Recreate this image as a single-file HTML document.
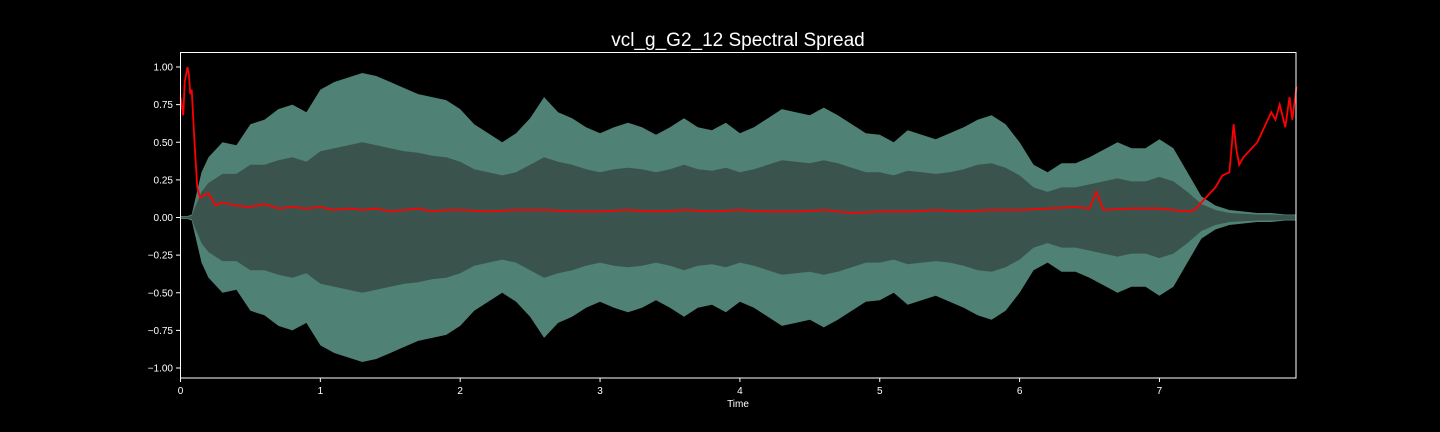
<!DOCTYPE html>
<html><head><meta charset="utf-8"><style>
html,body{margin:0;padding:0;background:#000;overflow:hidden;}
svg{display:block;}
svg text{font-family:"Liberation Sans","DejaVu Sans",sans-serif;fill:#fff;}
</style></head><body>
<svg id="chart" width="1440" height="432" xmlns="http://www.w3.org/2000/svg">
<rect x="0" y="0" width="1440" height="432" fill="#000"/>
<text x="738" y="46" font-size="19" text-anchor="middle">vcl_g_G2_12 Spectral Spread</text>
<g id="plot"></g>
<rect x="180.5" y="52.5" width="1115.5" height="325.5" fill="none" stroke="#fff" stroke-width="1"/>
<g id="axes"></g>
<text x="738" y="407" font-size="10" text-anchor="middle">Time</text>
</svg>
<script>
const envTimes = [0,0.05,0.08,0.1,0.15,0.2,0.3,0.4,0.5,0.6,0.7,0.8,0.9,1.0,1.1,1.2,1.3,1.4,1.5,1.6,1.7,1.8,1.9,2.0,2.1,2.2,2.3,2.4,2.5,2.6,2.7,2.8,2.9,3.0,3.1,3.2,3.3,3.4,3.5,3.6,3.7,3.8,3.9,4.0,4.1,4.2,4.3,4.4,4.5,4.6,4.7,4.8,4.9,5.0,5.1,5.2,5.3,5.4,5.5,5.6,5.7,5.8,5.9,6.0,6.1,6.2,6.3,6.4,6.5,6.6,6.7,6.8,6.9,7.0,7.1,7.2,7.3,7.4,7.5,7.6,7.7,7.8,7.9,7.98];
const outerAmp = [0.01,0.01,0.02,0.1,0.3,0.4,0.5,0.48,0.62,0.65,0.72,0.75,0.7,0.85,0.9,0.93,0.96,0.94,0.9,0.86,0.82,0.8,0.78,0.72,0.62,0.56,0.5,0.56,0.66,0.8,0.7,0.66,0.6,0.56,0.6,0.63,0.6,0.55,0.6,0.66,0.6,0.58,0.63,0.56,0.6,0.66,0.72,0.7,0.68,0.73,0.68,0.62,0.56,0.55,0.5,0.58,0.55,0.52,0.56,0.6,0.65,0.68,0.62,0.5,0.35,0.3,0.36,0.36,0.4,0.45,0.5,0.46,0.46,0.52,0.46,0.3,0.14,0.08,0.05,0.04,0.03,0.03,0.02,0.02];
const innerAmp = [0.005,0.005,0.01,0.06,0.17,0.23,0.29,0.29,0.35,0.35,0.38,0.4,0.37,0.44,0.46,0.48,0.5,0.48,0.46,0.44,0.43,0.41,0.4,0.37,0.32,0.3,0.28,0.3,0.35,0.4,0.37,0.35,0.32,0.3,0.32,0.33,0.32,0.3,0.32,0.35,0.32,0.31,0.33,0.3,0.32,0.35,0.38,0.37,0.36,0.38,0.36,0.33,0.3,0.3,0.28,0.31,0.3,0.29,0.3,0.32,0.35,0.36,0.33,0.28,0.2,0.17,0.2,0.2,0.22,0.24,0.26,0.24,0.24,0.27,0.24,0.17,0.09,0.05,0.03,0.025,0.02,0.02,0.015,0.015];
const spreadTimes = [0,0.02,0.03,0.05,0.06,0.07,0.08,0.1,0.12,0.14,0.17,0.2,0.25,0.3,0.4,0.5,0.6,0.7,0.8,0.9,1.0,1.1,1.2,1.3,1.4,1.5,1.6,1.7,1.8,1.9,2.0,2.2,2.4,2.6,2.8,3.0,3.2,3.4,3.6,3.8,4.0,4.2,4.4,4.6,4.8,5.0,5.2,5.4,5.6,5.8,6.0,6.2,6.4,6.5,6.55,6.6,6.8,7.0,7.2,7.25,7.3,7.35,7.4,7.45,7.5,7.53,7.55,7.57,7.6,7.65,7.7,7.75,7.8,7.83,7.86,7.9,7.93,7.95,7.98];
const spreadValues = [0.8,0.68,0.9,1.0,0.95,0.82,0.85,0.5,0.2,0.13,0.15,0.16,0.08,0.1,0.08,0.07,0.09,0.06,0.07,0.06,0.07,0.05,0.06,0.05,0.06,0.04,0.05,0.06,0.04,0.05,0.05,0.04,0.05,0.05,0.04,0.04,0.05,0.04,0.05,0.04,0.05,0.04,0.04,0.05,0.03,0.04,0.04,0.05,0.04,0.05,0.05,0.06,0.07,0.06,0.17,0.05,0.06,0.06,0.04,0.05,0.1,0.15,0.2,0.28,0.3,0.62,0.45,0.35,0.4,0.45,0.5,0.6,0.7,0.65,0.75,0.6,0.8,0.65,0.87];
const xTicks = [0,1,2,3,4,5,6,7];
const yTicks = [1.0,0.75,0.5,0.25,0.0,-0.25,-0.5,-0.75,-1.0];
const yTickLabels = ["1.00","0.75","0.50","0.25","0.00","\u22120.25","\u22120.50","\u22120.75","\u22121.00"];

const NS = "http://www.w3.org/2000/svg";
const X0 = 180.5, PX_PER_S = 139.85;
const Y0 = 217.5, PX_PER_UNIT = 150.5;
function xs(t){ return X0 + t*PX_PER_S; }
function ys(v){ return Y0 - v*PX_PER_UNIT; }
const plot = document.getElementById('plot');
const axes = document.getElementById('axes');

function bandPath(amp){
  let up = envTimes.map((t,i)=>xs(t).toFixed(1)+','+ys(amp[i]).toFixed(1));
  let dn = envTimes.map((t,i)=>xs(t).toFixed(1)+','+ys(-amp[i]).toFixed(1)).reverse();
  return 'M'+up.join('L')+'L'+dn.join('L')+'Z';
}
const outer = document.createElementNS(NS,'path');
outer.setAttribute('d', bandPath(outerAmp));
outer.setAttribute('fill','#4f8175');


plot.appendChild(outer);
const inner = document.createElementNS(NS,'path');
inner.setAttribute('d', bandPath(innerAmp));
inner.setAttribute('fill','#3a544d');


plot.appendChild(inner);

const line = document.createElementNS(NS,'polyline');
line.setAttribute('points', spreadTimes.map((t,i)=>xs(t).toFixed(1)+','+ys(spreadValues[i]).toFixed(1)).join(' '));
line.setAttribute('fill','none');
line.setAttribute('stroke','#ff0000');
line.setAttribute('stroke-width','1.8');


plot.appendChild(line);

xTicks.forEach(t=>{
  const tk = document.createElementNS(NS,'line');
  tk.setAttribute('x1',xs(t)); tk.setAttribute('x2',xs(t));
  tk.setAttribute('y1',378); tk.setAttribute('y2',382);
  tk.setAttribute('stroke','#fff');
  
  
  axes.appendChild(tk);
  const lb = document.createElementNS(NS,'text');
  lb.setAttribute('x',xs(t)); lb.setAttribute('y',394);
  lb.setAttribute('font-size','10'); lb.setAttribute('text-anchor','middle');
  lb.textContent = String(t);
  
  
  axes.appendChild(lb);
});
yTicks.forEach((v,i)=>{
  const tk = document.createElementNS(NS,'line');
  tk.setAttribute('x1',176); tk.setAttribute('x2',180.5);
  tk.setAttribute('y1',ys(v)); tk.setAttribute('y2',ys(v));
  tk.setAttribute('stroke','#fff');
  
  
  axes.appendChild(tk);
  const lb = document.createElementNS(NS,'text');
  lb.setAttribute('x',173); lb.setAttribute('y',ys(v)+3.5);
  lb.setAttribute('font-size','10'); lb.setAttribute('text-anchor','end');
  lb.textContent = yTickLabels[i];
  
  
  axes.appendChild(lb);
});
</script>
</body></html>
